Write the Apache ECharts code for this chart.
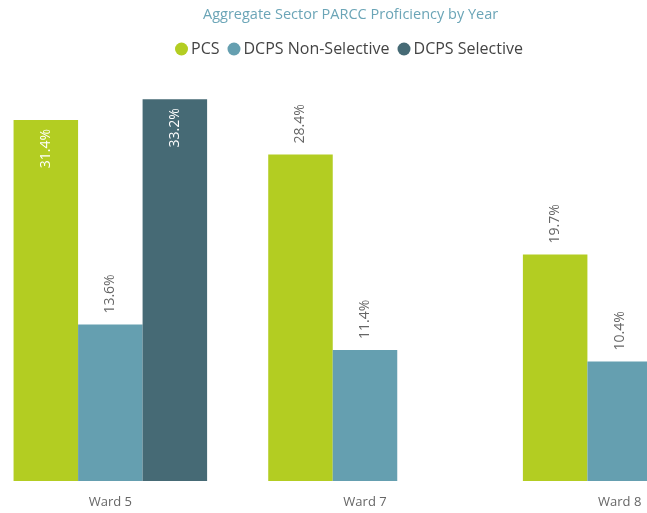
<!DOCTYPE html>
<html>
<head>
<meta charset="utf-8">
<style>
  html, body { margin: 0; padding: 0; background: #fff; overflow: hidden; }
  #wrap { width: 647px; height: 513px; overflow: hidden; position: relative; }
  /* the chart is wider than the window and cut at both sides, like the reference */
  #chart { width: 764px; height: 513px; position: absolute; left: -17px; top: 0; }
</style>
<script src="https://cdn.jsdelivr.net/npm/echarts@6/dist/echarts.min.js"></script>
</head>
<body>
<div id="wrap"><div id="chart"></div></div>
<script>
// data
var wards = ['Ward 5', 'Ward 7', 'Ward 8'];
var pcs = [31.4, 28.4, 19.7];
var nonSelective = [13.6, 11.4, 10.4];
var selective = [33.2, null, null];
// which values have their label drawn inside the bar
var pcsInside = [true, false, false];
var selInside = [true, false, false];

var font = "'Segoe UI', 'Open Sans', 'Noto Sans', sans-serif";
var shift = 17; // chart div starts 17px left of the window

function labelFor(inside) {
  if (inside) {
    return { show: true, position: 'insideTop', rotate: 90, align: 'right', verticalAlign: 'middle',
      distance: 9, color: '#ffffff', fontSize: 14, fontFamily: font,
      formatter: function (p) { return p.value.toFixed(1) + '%'; } };
  }
  return { show: true, position: 'top', rotate: 90, align: 'left', verticalAlign: 'middle',
    distance: 11, color: '#666666', fontSize: 14, fontFamily: font,
    formatter: function (p) { return p.value.toFixed(1) + '%'; } };
}

function build(values, inside) {
  return values.map(function (v, i) {
    if (v === null) return '-';
    return { value: v, label: labelFor(inside ? inside[i] : false) };
  });
}

var chart = echarts.init(document.getElementById('chart'));
chart.setOption({
  animation: false,
  title: {
    text: 'Aggregate Sector PARCC Proficiency by Year',
    left: 198 + shift, top: 2,
    textStyle: { color: '#6ba5b7', fontSize: 14.5, fontWeight: 'normal', fontFamily: font }
  },
  legend: {
    left: 170 + shift, top: 36,
    icon: 'circle', itemWidth: 13, itemHeight: 13, itemGap: 8,
    textStyle: { color: '#444', fontSize: 16, fontFamily: font, padding: [0, 0, 0, -2] },
    data: ['PCS', 'DCPS Non-Selective', 'DCPS Selective']
  },
  grid: { left: 0, right: 0, top: 90, bottom: 32 },
  xAxis: {
    type: 'category',
    data: wards,
    axisLine: { show: false },
    axisTick: { show: false },
    axisLabel: { color: '#666', fontSize: 13, fontFamily: font, margin: 15 }
  },
  yAxis: { type: 'value', min: 0, max: 34, show: false, splitLine: { show: false } },
  series: [
    { name: 'PCS', type: 'bar', barGap: 0, barCategoryGap: '24%',
      itemStyle: { color: '#b3cd22' }, data: build(pcs, pcsInside) },
    { name: 'DCPS Non-Selective', type: 'bar', barGap: 0, barCategoryGap: '24%',
      itemStyle: { color: '#659fb0' }, data: build(nonSelective, null) },
    { name: 'DCPS Selective', type: 'bar', barGap: 0, barCategoryGap: '24%',
      itemStyle: { color: '#466a75' }, data: build(selective, selInside) }
  ]
});
</script>
</body>
</html>
